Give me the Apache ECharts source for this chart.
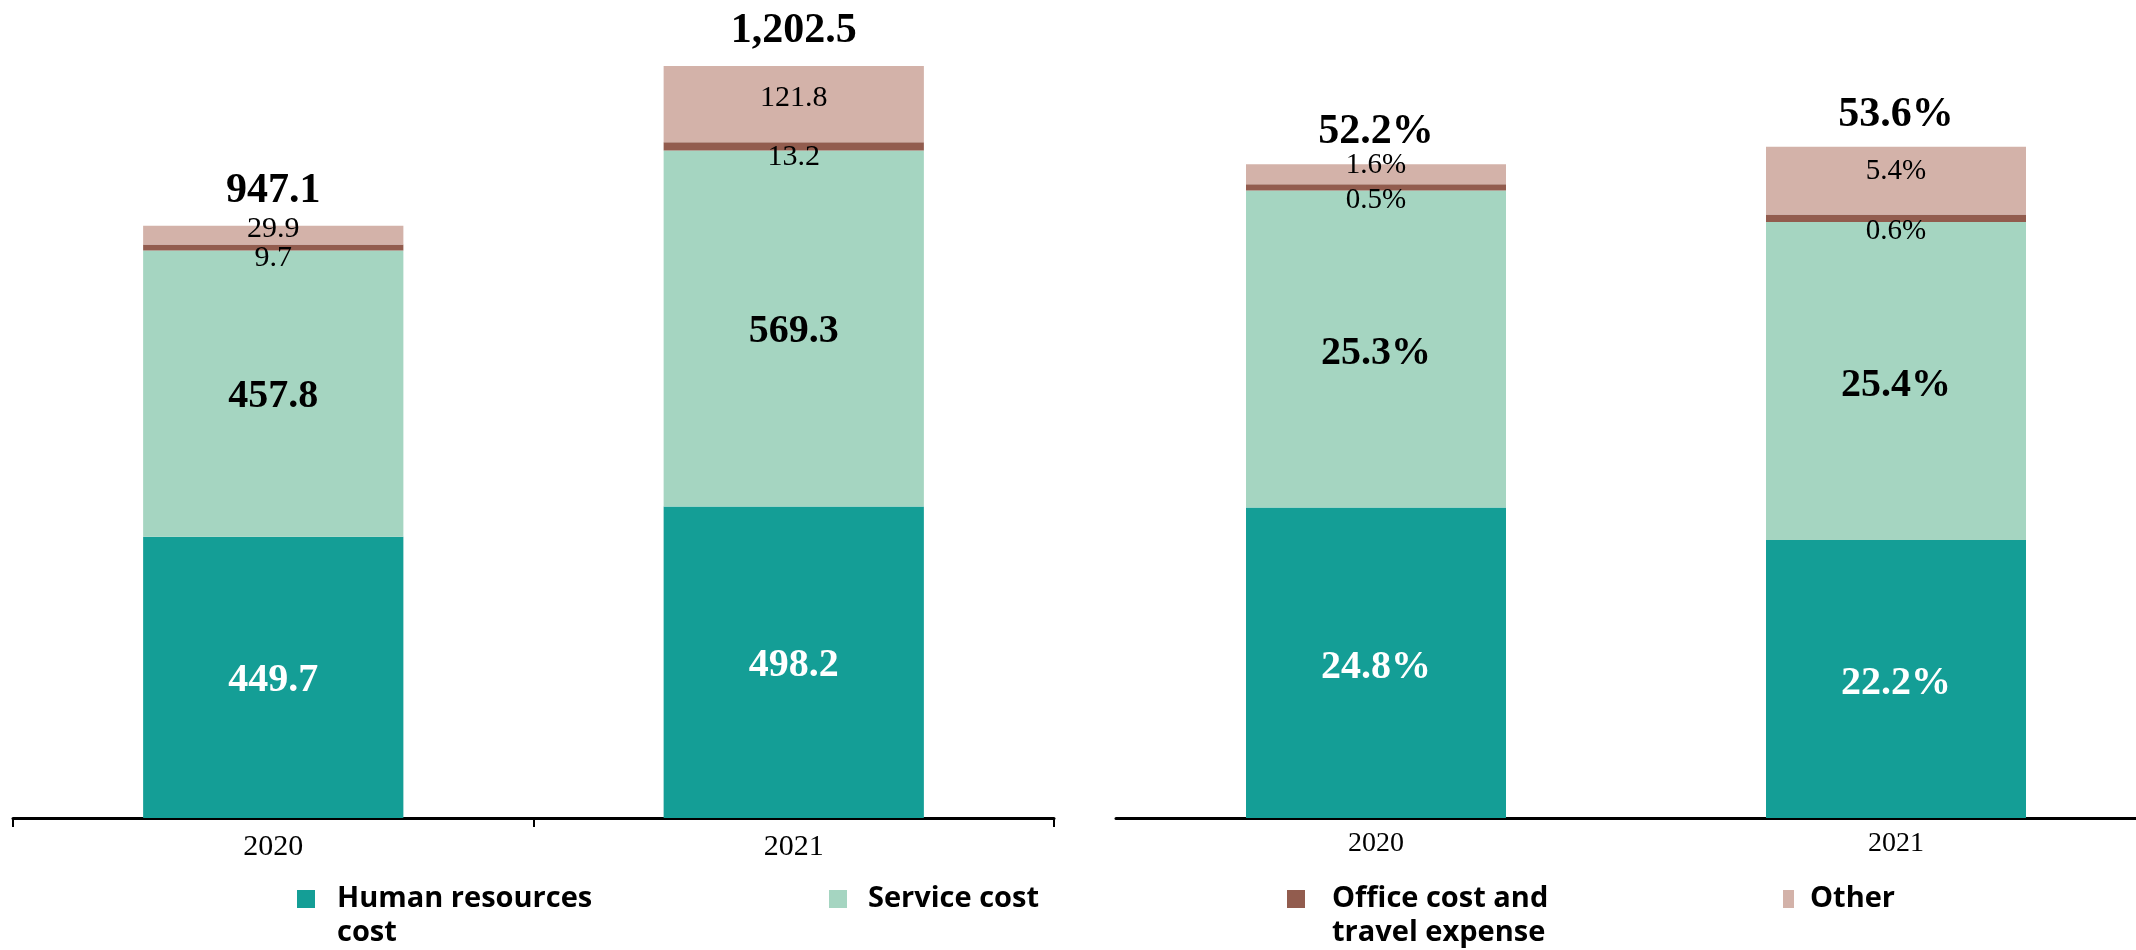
<!DOCTYPE html>
<html>
<head>
<meta charset="utf-8">
<script src="https://cdn.jsdelivr.net/npm/echarts@6/dist/echarts.min.js"></script>
<style>
  html, body { margin: 0; padding: 0; background: #ffffff; }
  #chart { width: 2136px; height: 950px; }
</style>
</head>
<body>
<div id="chart"></div>
<script>
// Years on both panels
const categories = ['2020', '2021'];

// Left panel: cost amounts
const hrCost = [449.7, 498.2];
const serviceCost = [457.8, 569.3];
const officeTravelCost = [9.7, 13.2];
const otherCost = [29.9, 121.8];

// Right panel: cost as a share (%)
const hrShare = [24.8, 22.2];
const serviceShare = [25.3, 25.4];
const officeTravelShare = [0.5, 0.6];
const otherShare = [1.6, 5.4];

// Series names / legend text (two-line entries get a blank lead line so the
// first text line sits level with the swatch)
const seriesNames = ['Human resources cost', 'Service cost', 'Office cost and travel expense', 'Other'];
const legendLabels = [' \nHuman resources\ncost', 'Service cost', ' \nOffice cost and\ntravel expense', 'Other'];

const COLORS = ['#149e96', '#a5d5c1', '#925c4e', '#d3b2a9'];
const SERIF = '"Liberation Serif", "Times New Roman", serif';
const SANS = '"Open Sans", "Noto Sans", sans-serif';

function sumStack(parts) {
  return parts[0].map((_, i) => Math.round(parts.reduce((s, p) => s + p[i], 0) * 10) / 10);
}

function fmtAmount(v) {
  return Number(v).toLocaleString('en-US', { minimumFractionDigits: 1, maximumFractionDigits: 1 });
}
function fmtShare(v) {
  return Number(v).toFixed(1) + '%';
}

function panelSeries(axisIdx, parts, fmt, cfg) {
  const stack = 'stack' + axisIdx;
  const totals = sumStack(parts);
  const list = parts.map((vals, k) => {
    const label = { show: true, position: 'inside', fontFamily: SERIF, formatter: p => fmt(p.value) };
    if (k === 0) Object.assign(label, { color: '#ffffff', fontWeight: 'bold', fontSize: 40, offset: [0, cfg.boldOffset] });
    if (k === 1) Object.assign(label, { color: '#000000', fontWeight: 'bold', fontSize: 40, offset: [0, cfg.boldOffset] });
    if (k === 2) Object.assign(label, { color: '#000000', fontSize: cfg.small, offset: [0, cfg.officeOffset] });
    if (k === 3) Object.assign(label, { color: '#000000', fontSize: cfg.small, offset: [0, cfg.otherOffset] });
    return {
      name: seriesNames[k],
      type: 'bar',
      stack: stack,
      xAxisIndex: axisIdx,
      yAxisIndex: axisIdx,
      barWidth: '50%',
      data: vals,
      itemStyle: { color: COLORS[k] },
      label: label,
      emphasis: { disabled: true }
    };
  });
  // zero-height cap on top of each stack carrying the stack total
  list.push({
    name: 'total' + axisIdx,
    type: 'bar',
    stack: stack,
    xAxisIndex: axisIdx,
    yAxisIndex: axisIdx,
    barWidth: '50%',
    data: totals.map(() => 0),
    itemStyle: { color: 'rgba(0,0,0,0)' },
    label: {
      show: true,
      position: 'top',
      distance: cfg.totalDistance,
      fontFamily: SERIF,
      fontWeight: 'bold',
      fontSize: 42,
      color: '#000000',
      formatter: p => fmt(totals[p.dataIndex])
    },
    emphasis: { disabled: true }
  });
  return list;
}

function legendFor(k, left, iconW, textPad, twoLines) {
  return {
    data: [seriesNames[k]],
    left: left,
    top: twoLines ? 848 : 882,
    padding: 0,
    icon: 'rect',
    itemWidth: iconW,
    itemHeight: 18,
    selectedMode: false,
    formatter: () => legendLabels[k],
    textStyle: {
      fontFamily: SANS,
      fontWeight: 'bold',
      fontSize: 29,
      lineHeight: 34,
      color: '#000000',
      padding: [0, 0, 0, textPad]
    }
  };
}

const chart = echarts.init(document.getElementById('chart'), null, { renderer: 'canvas' });

const option = {
  animation: false,
  backgroundColor: '#ffffff',
  grid: [
    { left: 13, top: 5, width: 1041, bottom: 132, outerBoundsMode: 'none', containLabel: false },
    { left: 1116, top: 4, width: 1040, bottom: 132, outerBoundsMode: 'none', containLabel: false }
  ],
  xAxis: [
    {
      type: 'category',
      gridIndex: 0,
      data: categories,
      axisLine: { show: true, lineStyle: { color: '#000000', width: 3 } },
      axisTick: { show: true, length: 9, lineStyle: { color: '#000000', width: 2 } },
      axisLabel: { color: '#000000', fontFamily: SERIF, fontSize: 30, margin: 14 }
    },
    {
      type: 'category',
      gridIndex: 1,
      data: categories,
      axisLine: { show: true, lineStyle: { color: '#000000', width: 3 } },
      axisTick: { show: false },
      axisLabel: { color: '#000000', fontFamily: SERIF, fontSize: 28, margin: 12 }
    }
  ],
  yAxis: [
    { type: 'value', gridIndex: 0, min: 0, max: 1300, show: false, splitLine: { show: false } },
    { type: 'value', gridIndex: 1, min: 0, max: 65, show: false, splitLine: { show: false } }
  ],
  legend: [
    legendFor(0, 297, 18, 17, true),
    legendFor(1, 829, 18, 16, false),
    legendFor(2, 1287, 18, 22, true),
    legendFor(3, 1783, 11, 11, false)
  ],
  series: [].concat(
    panelSeries(0, [hrCost, serviceCost, officeTravelCost, otherCost], fmtAmount,
      { small: 30, officeOffset: 11, otherOffset: -6, boldOffset: 3, totalDistance: 14 }),
    panelSeries(1, [hrShare, serviceShare, officeTravelShare, otherShare], fmtShare,
      { small: 29, officeOffset: 13, otherOffset: -9, boldOffset: 5, totalDistance: 11 })
  )
};

chart.setOption(option);
</script>
</body>
</html>
